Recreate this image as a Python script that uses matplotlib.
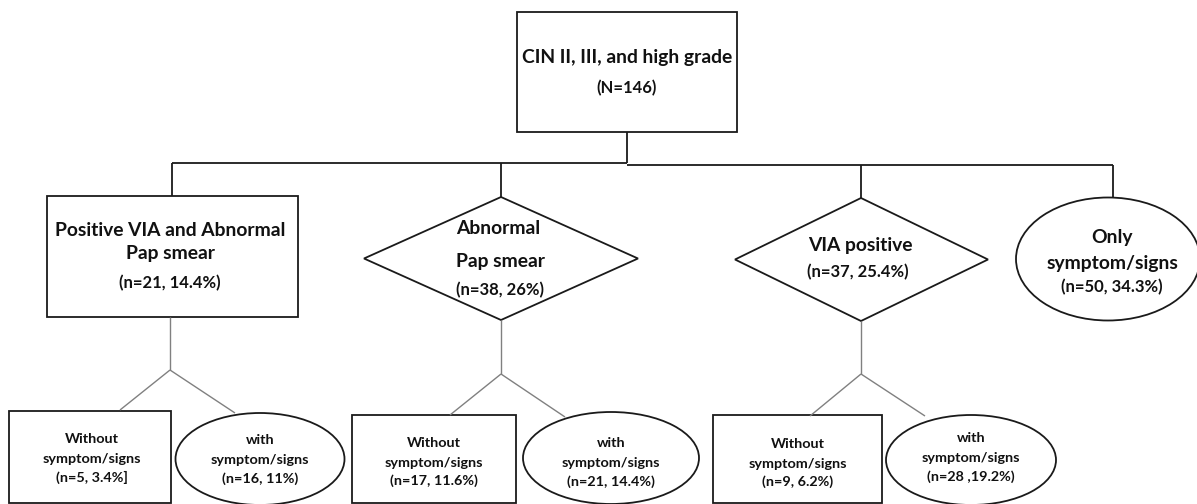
"""
CIN II/III 症例のスクリーニング経路フローチャートを再現する
"""
import matplotlib
import matplotlib.pyplot as plt
from matplotlib.patches import Ellipse, Polygon, Rectangle

matplotlib.rcParams["font.family"] = ["Lato", "DejaVu Sans"]

# ---- データ ----
top_label = "CIN II, III, and high grade"
top_total = 146

group_names = ["Positive VIA and Abnormal", "Abnormal", "VIA positive", "Only"]
group_names2 = ["Pap smear", "Pap smear", "", "symptom/signs"]
group_n = [21, 38, 37, 50]
group_pct = ["14.4%", "26%", "25.4%", "34.3%"]

without_n = [5, 17, 9]
without_pct = ["3.4%", "11.6%", "6.2%"]
with_n = [16, 21, 28]
with_pct = ["11%", "14.4%", "19.2%"]

W, H = 1197, 504
EDGE = "#1a1a1a"
GREY = "#808080"
FS_MAIN = 13.9
FS_N = 12
FS_SUB = 10.4

fig = plt.figure(figsize=(W / 100, H / 100), dpi=100)
ax = fig.add_axes([0, 0, 1, 1])
ax.set_xlim(0, W)
ax.set_ylim(H, 0)
ax.axis("off")


def line(xs, ys, color=EDGE, lw=1.3):
    ax.plot(xs, ys, color=color, lw=lw, solid_capstyle="butt")


def txt(x, y, s, fs=FS_MAIN, ha="center"):
    ax.text(x, y, s, fontsize=fs, fontweight="bold", ha=ha, va="center", color="#111111")


def rect(x0, y0, x1, y1):
    ax.add_patch(Rectangle((x0, y0), x1 - x0, y1 - y0, fill=False, ec=EDGE, lw=1.3))


def ellipse(cx, cy, w, h):
    ax.add_patch(Ellipse((cx, cy), w, h, fill=False, ec=EDGE, lw=1.3))


def diamond(cx, top, bottom, left, right):
    cy = (top + bottom) / 2
    ax.add_patch(Polygon([(cx, top), (right, cy), (cx, bottom), (left, cy)],
                         closed=True, fill=False, ec=EDGE, lw=1.3))


# 最上位ボックス
rect(517, 12, 737, 132)
txt(627, 58, top_label)
txt(627, 88, f"(N={top_total})", fs=FS_N)

# 上段の分岐線
line([627, 627], [132, 163])
line([172, 627], [163, 163])
line([627, 1113], [165, 165])
line([172, 172], [163, 196])
line([501, 501], [163, 197])
line([861, 861], [165, 198])
line([1113, 1113], [165, 198])

# 中段ノード
rect(47, 196, 298, 317)
txt(170, 230, group_names[0])
txt(170, 253, group_names2[0])
txt(170, 283, f"(n={group_n[0]}, {group_pct[0]})", fs=FS_N)

diamond(501, 197, 320, 364, 638)
txt(456, 228, group_names[1], ha="left")
txt(456, 262, group_names2[1], ha="left")
txt(456, 290, f"(n={group_n[1]}, {group_pct[1]})", fs=FS_N, ha="left")

diamond(861, 198, 321, 735, 988)
txt(860, 245, group_names[2])
txt(858, 272, f"(n={group_n[2]}, {group_pct[2]})", fs=FS_N)

ellipse(1108, 259, 184, 123)
txt(1112, 238, group_names[3])
txt(1112, 264, group_names2[3])
txt(1112, 287, f"(n={group_n[3]}, {group_pct[3]})", fs=FS_N)

# 下段への分岐線（グレー）
stems = [(170, 317, 370, 120, 410, 235, 413),
         (501, 320, 374, 450, 415, 565, 417),
         (861, 321, 374, 810, 416, 925, 416)]
for sx, y0, y1, lx, ly, rx, ry in stems:
    line([sx, sx], [y0, y1], color=GREY, lw=1.0)
    line([sx, lx], [y1, ly], color=GREY, lw=1.0)
    line([sx, rx], [y1, ry], color=GREY, lw=1.0)

# 下段ノード
boxes = [(9, 171), (352, 516), (713, 882)]
box_tops = [411, 415, 415]
box_text_x = [92, 434, 798]
box_text_y = [439, 443, 444]
without_fmt = ["(n={n}, {p}]", "(n={n}, {p})", "(n={n}, {p})"]
for (x0, x1), yt, tx, ty, n, p, fmt in zip(boxes, box_tops, box_text_x, box_text_y,
                                            without_n, without_pct, without_fmt):
    rect(x0, yt, x1, 503)
    txt(tx, ty, "Without", fs=FS_SUB)
    txt(tx, ty + 20, "symptom/signs", fs=FS_SUB)
    txt(tx, ty + 38, fmt.format(n=n, p=p), fs=FS_SUB)

ovals = [(260, 459, 169, 92), (611, 458, 176, 92), (971, 460, 170, 90)]
oval_text_y = [440, 443, 438]
with_fmt = ["(n={n}, {p})", "(n={n}, {p})", "(n={n} ,{p})"]
for (cx, cy, w, h), ty, n, p, fmt in zip(ovals, oval_text_y, with_n, with_pct, with_fmt):
    ellipse(cx, cy, w, h)
    txt(cx, ty, "with", fs=FS_SUB)
    txt(cx, ty + 20, "symptom/signs", fs=FS_SUB)
    txt(cx, ty + 39, fmt.format(n=n, p=p), fs=FS_SUB)

fig.savefig("out.png", dpi=100, facecolor="white")
plt.close(fig)
